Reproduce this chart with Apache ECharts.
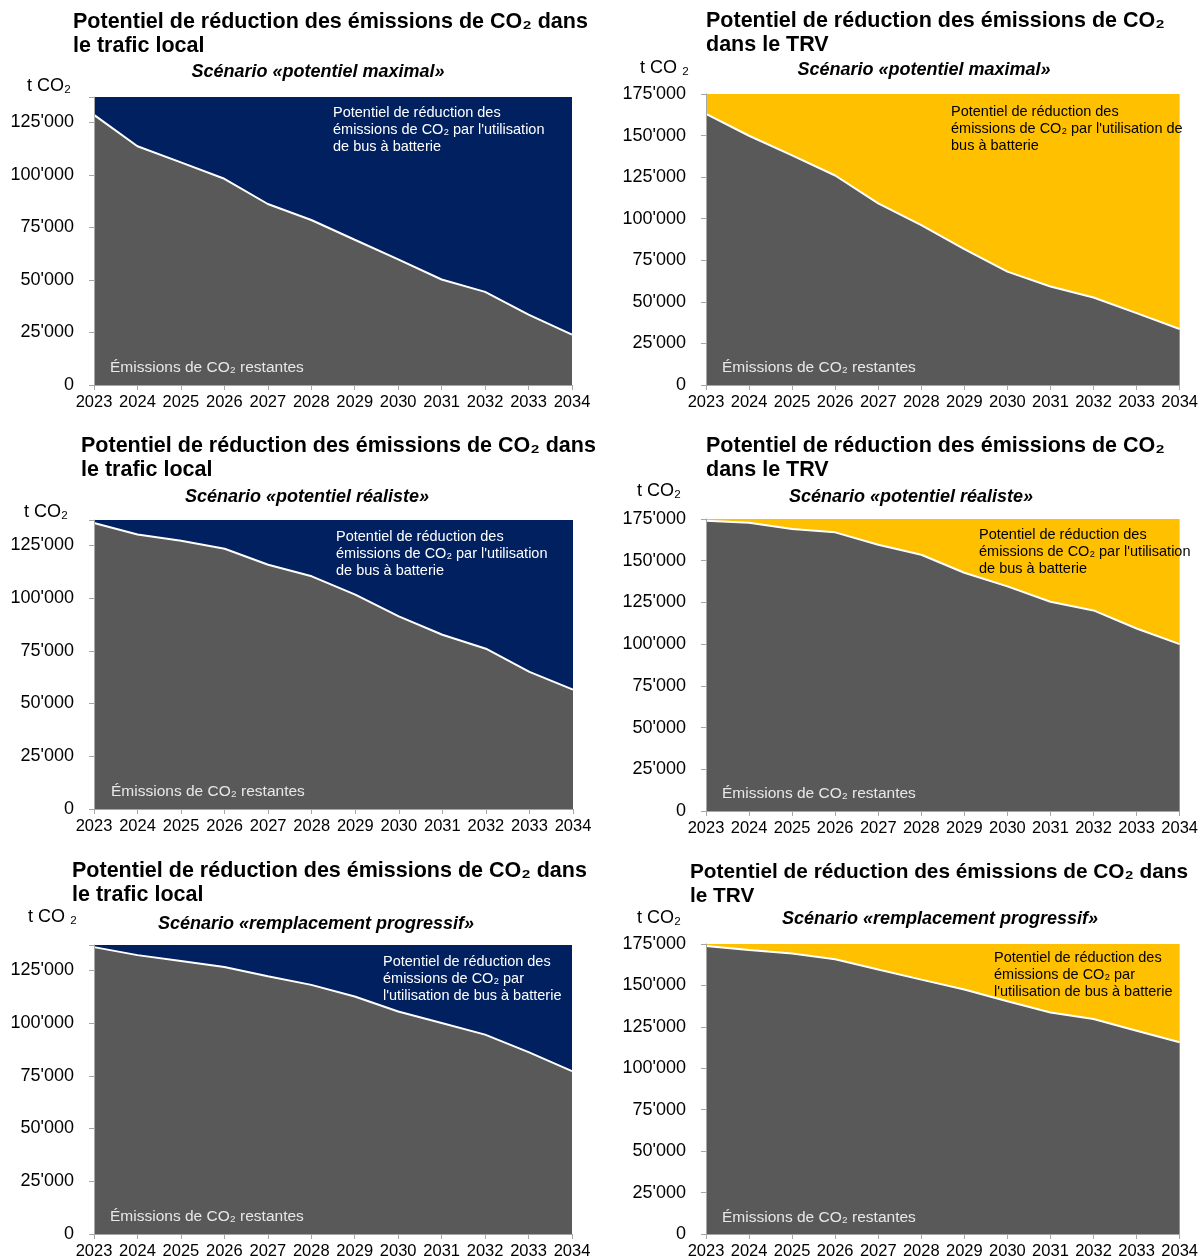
<!DOCTYPE html>
<html>
<head>
<meta charset="utf-8">
<script src="https://cdn.jsdelivr.net/npm/echarts@6/dist/echarts.min.js"></script>
<style>
  html, body { margin: 0; padding: 0; background: #fff; }
  #chart { width: 1201px; height: 1260px; }
</style>
</head>
<body>
<div id="chart"></div>
<script>
// years on the x axis
const years = ["2023", "2024", "2025", "2026", "2027", "2028", "2029", "2030", "2031", "2032", "2033", "2034"];

// top of the stack (reference level) for each network
const localBaseline = 137000;
const trvBaseline = 175000;

// remaining CO2 emissions (t CO2)
const localMaxRemaining = [128500, 113600, 105900, 98100, 86100, 78500, 69100, 59800, 50200, 44300, 33500, 24000];
const trvMaxRemaining = [163000, 149900, 138100, 126000, 109200, 96100, 81700, 68200, 59200, 52600, 43200, 33700];
const localRealRemaining = [135600, 130100, 127200, 123400, 115800, 110300, 101600, 91300, 82600, 76000, 65000, 56600];
const trvRealRemaining = [174000, 172800, 169000, 167000, 159600, 153600, 142800, 134600, 125400, 120200, 109400, 100000];
const localProgRemaining = [136000, 132200, 129400, 126600, 122200, 118100, 112600, 105500, 100000, 94500, 86200, 77200];
const trvProgRemaining = [173800, 171400, 169200, 165800, 159600, 153500, 147500, 140500, 133700, 129700, 122700, 115700];

const yTicks = [0, 25000, 50000, 75000, 100000, 125000, 150000, 175000];

const NAVY = "#002060";
const GOLD = "#FFC000";
const GREY = "#595959";
const FONT = "Liberation Sans";

const TITLE_LOCAL = "Potentiel de réduction des émissions de CO₂ dans\nle trafic local";
const TITLE_TRV = "Potentiel de réduction des émissions de CO₂\ndans le TRV";

const panels = [
    {
        title: TITLE_LOCAL, tx: 73, ty: 10, tsize: 21.5,
        sub: "Scénario «potentiel maximal»", sx: 318, sy: 72,
        unit: "t CO₂", ux: 27, uy: 86,
        grid: { left: 94, top: 97, width: 478, height: 288 },
        max: localBaseline, remaining: localMaxRemaining, color: NAVY, noteColor: "#fff",
        note: "Potentiel de réduction des\némissions de CO₂ par l'utilisation\nde bus à batterie", nx: 333, ny: 104,
        rx: 110, ry: 368
    },
    {
        title: TITLE_TRV, tx: 706, ty: 9, tsize: 21.5,
        sub: "Scénario «potentiel maximal»", sx: 924, sy: 70,
        unit: "t CO ₂", ux: 640, uy: 68,
        grid: { left: 706, top: 94, width: 478, height: 291 },
        max: trvBaseline, remaining: trvMaxRemaining, color: GOLD, noteColor: "#000",
        note: "Potentiel de réduction des\némissions de CO₂ par l'utilisation de\nbus à batterie", nx: 951, ny: 103,
        rx: 722, ry: 368
    },
    {
        title: TITLE_LOCAL, tx: 81, ty: 434, tsize: 21.5,
        sub: "Scénario «potentiel réaliste»", sx: 307, sy: 497,
        unit: "t CO₂", ux: 24, uy: 512,
        grid: { left: 94, top: 520, width: 479, height: 289 },
        max: localBaseline, remaining: localRealRemaining, color: NAVY, noteColor: "#fff",
        note: "Potentiel de réduction des\némissions de CO₂ par l'utilisation\nde bus à batterie", nx: 336, ny: 528,
        rx: 111, ry: 792
    },
    {
        title: TITLE_TRV, tx: 706, ty: 434, tsize: 21.5,
        sub: "Scénario «potentiel réaliste»", sx: 911, sy: 497,
        unit: "t CO₂", ux: 637, uy: 491,
        grid: { left: 706, top: 519, width: 478, height: 292 },
        max: trvBaseline, remaining: trvRealRemaining, color: GOLD, noteColor: "#000",
        note: "Potentiel de réduction des\némissions de CO₂ par l'utilisation\nde bus à batterie", nx: 979, ny: 526,
        rx: 722, ry: 794
    },
    {
        title: TITLE_LOCAL, tx: 72, ty: 859, tsize: 21.5,
        sub: "Scénario «remplacement progressif»", sx: 316, sy: 924,
        unit: "t CO ₂", ux: 28, uy: 917,
        grid: { left: 94, top: 945, width: 478, height: 289 },
        max: localBaseline, remaining: localProgRemaining, color: NAVY, noteColor: "#fff",
        note: "Potentiel de réduction des\némissions de CO₂ par\nl'utilisation de bus à batterie", nx: 383, ny: 953,
        rx: 110, ry: 1217
    },
    {
        title: "Potentiel de réduction des émissions de CO₂ dans\nle TRV", tx: 690, ty: 860, tsize: 20.8,
        sub: "Scénario «remplacement progressif»", sx: 940, sy: 919,
        unit: "t CO₂", ux: 637, uy: 918,
        grid: { left: 706, top: 944, width: 478, height: 291 },
        max: trvBaseline, remaining: trvProgRemaining, color: GOLD, noteColor: "#000",
        note: "Potentiel de réduction des\némissions de CO₂ par\nl'utilisation de bus à batterie", nx: 994, ny: 949,
        rx: 722, ry: 1218
    }
];

const fmt = (v) => {
    if (yTicks.indexOf(v) < 0) return "";
    if (v === 0) return "0";
    const s = String(v);
    return s.slice(0, s.length - 3) + "'" + s.slice(-3);
};

const grid = [];
const xAxis = [];
const yAxis = [];
const series = [];
const title = [];
const graphic = [];

panels.forEach((p, i) => {
    grid.push(Object.assign({ show: false }, p.grid));

    xAxis.push({
        type: "category",
        gridIndex: i,
        data: years,
        boundaryGap: false,
        axisLine: { show: true, lineStyle: { color: "#a6a6a6", width: 1 } },
        axisTick: { show: true, length: 5, lineStyle: { color: "#a6a6a6" } },
        axisLabel: { color: "#000", fontSize: 16.5, fontFamily: FONT, margin: 9, interval: 0 },
        splitLine: { show: false },
        z: 10
    });

    yAxis.push({
        type: "value",
        gridIndex: i,
        min: 0,
        max: p.max,
        interval: 25000,
        axisLine: { show: true, lineStyle: { color: "#a6a6a6", width: 1 } },
        axisTick: { show: true, length: 5, lineStyle: { color: "#a6a6a6" } },
        axisLabel: { color: "#000", fontSize: 18, fontFamily: FONT, margin: 20, formatter: fmt },
        splitLine: { show: false },
        z: 10
    });

    series.push({
        name: "Émissions de CO₂ restantes",
        type: "line",
        xAxisIndex: i,
        yAxisIndex: i,
        stack: "s" + i,
        data: p.remaining,
        symbol: "none",
        lineStyle: { color: "#fff", width: 2 },
        areaStyle: { color: GREY, opacity: 1 },
        z: 3
    });

    series.push({
        name: "Potentiel de réduction",
        type: "line",
        xAxisIndex: i,
        yAxisIndex: i,
        stack: "s" + i,
        data: p.remaining.map((v) => p.max - v),
        symbol: "none",
        lineStyle: { width: 0 },
        areaStyle: { color: p.color, opacity: 1 },
        z: 2
    });

    title.push({
        text: p.title,
        left: p.tx,
        top: p.ty,
        padding: 0,
        textStyle: { fontSize: p.tsize, fontWeight: "bold", fontFamily: FONT, color: "#000", lineHeight: 24 }
    });

    graphic.push({
        type: "text",
        x: p.sx, y: p.sy,
        style: {
            text: p.sub,
            font: "italic bold 18px '" + FONT + "'",
            fill: "#000", align: "center", verticalAlign: "middle"
        }
    });

    graphic.push({
        type: "text",
        x: p.ux, y: p.uy,
        style: {
            text: p.unit,
            font: "18px '" + FONT + "'",
            fill: "#000", verticalAlign: "middle"
        }
    });

    graphic.push({
        type: "text",
        x: p.nx, y: p.ny,
        z: 20,
        style: {
            text: p.note,
            font: "14.5px '" + FONT + "'",
            lineHeight: 17,
            fill: p.noteColor
        }
    });

    graphic.push({
        type: "text",
        x: p.rx, y: p.ry,
        z: 20,
        style: {
            text: "Émissions de CO₂ restantes",
            font: "15.5px '" + FONT + "'",
            fill: "#e8e8e8", verticalAlign: "middle"
        }
    });
});

const chart = echarts.init(document.getElementById("chart"), null, { renderer: "canvas" });
chart.setOption({
    animation: false,
    backgroundColor: "#fff",
    title,
    grid,
    xAxis,
    yAxis,
    series,
    graphic
});
</script>
</body>
</html>
